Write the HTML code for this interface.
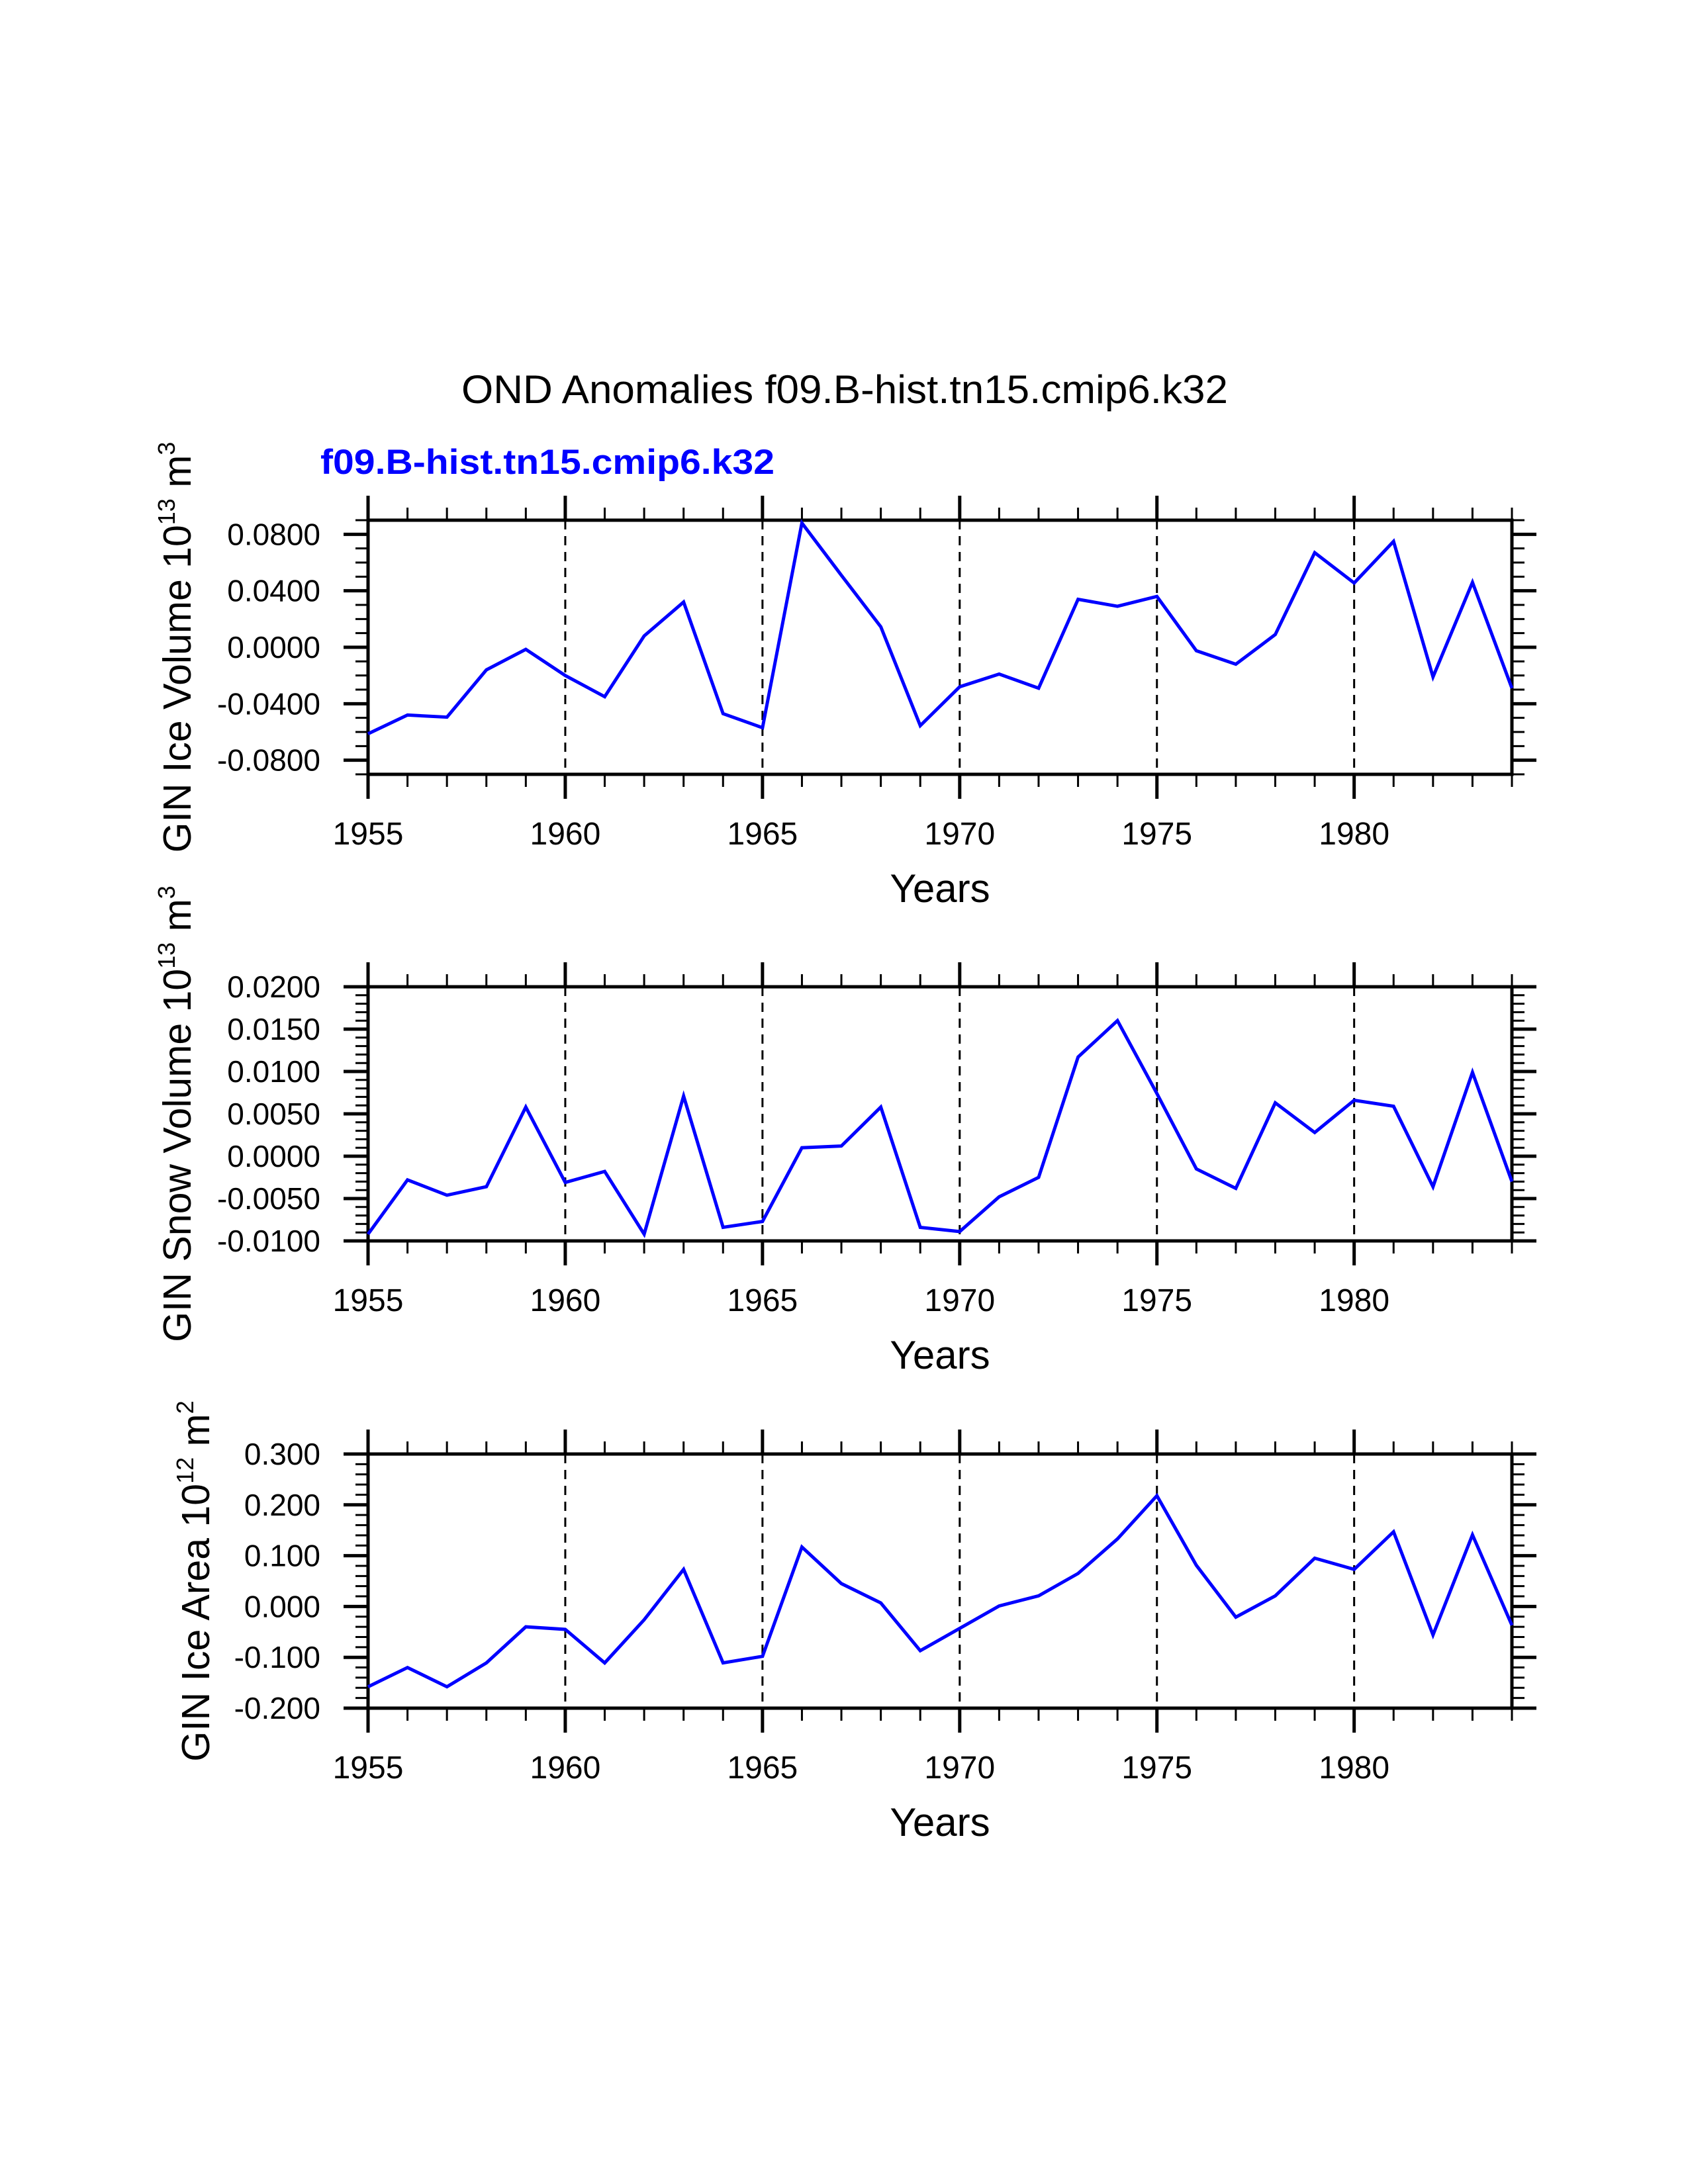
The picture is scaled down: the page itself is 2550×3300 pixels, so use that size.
<!DOCTYPE html>
<html><head><meta charset="utf-8"><style>
html,body{margin:0;padding:0;background:#fff;}
svg{display:block;font-family:"Liberation Sans",sans-serif;}
</style></head><body>
<svg id="c" width="2550" height="3300" viewBox="0 0 2550 3300" xmlns="http://www.w3.org/2000/svg">
<text x="1276" y="609" font-size="60" text-anchor="middle" textLength="1158" lengthAdjust="spacingAndGlyphs">OND Anomalies f09.B-hist.tn15.cmip6.k32</text>
<text x="484" y="716" font-size="53" font-weight="bold" fill="#0000ff" textLength="686" lengthAdjust="spacingAndGlyphs">f09.B-hist.tn15.cmip6.k32</text>
</svg>
<script>
const years = [1955,1956,1957,1958,1959,1960,1961,1962,1963,1964,1965,1966,1967,1968,1969,1970,1971,1972,1973,1974,1975,1976,1977,1978,1979,1980,1981,1982,1983,1984];
const iceVolume = [-0.0613,-0.048,-0.0495,-0.016,-0.0015,-0.020,-0.035,0.008,0.032,-0.047,-0.057,0.088,0.051,0.0145,-0.0555,-0.028,-0.019,-0.029,0.034,0.029,0.036,-0.0025,-0.012,0.009,0.067,0.0455,0.075,-0.021,0.046,-0.029];
const snowVolume = [-0.0092,-0.0028,-0.0046,-0.0036,0.0058,-0.0031,-0.0018,-0.0092,0.0071,-0.0084,-0.0077,0.0010,0.0012,0.0058,-0.0084,-0.0089,-0.0048,-0.0025,0.0117,0.0160,0.0074,-0.0015,-0.0038,0.0063,0.0028,0.0066,0.0059,-0.0036,0.0099,-0.0030];
const iceArea = [-0.158,-0.120,-0.158,-0.111,-0.040,-0.045,-0.111,-0.026,0.073,-0.111,-0.098,0.117,0.045,0.007,-0.087,-0.043,0.001,0.021,0.065,0.133,0.218,0.081,-0.021,0.021,0.095,0.073,0.147,-0.056,0.141,-0.037];
const xTickLabels = [1955,1960,1965,1970,1975,1980];
const volTicks = ["0.0800","0.0400","0.0000","-0.0400","-0.0800"];
const snowTicks = ["0.0200","0.0150","0.0100","0.0050","0.0000","-0.0050","-0.0100"];
const areaTicks = ["0.300","0.200","0.100","0.000","-0.100","-0.200"];

const NS="http://www.w3.org/2000/svg";
const svg=document.getElementById('c');
function mk(tag,attrs,parent){const e=document.createElementNS(NS,tag);for(const k in attrs)e.setAttribute(k,attrs[k]);(parent||svg).appendChild(e);return e;}
const X0=556,X1=2284,XMIN=1955,XMAX=1984;
function xs(v){return X0+(v-XMIN)/(XMAX-XMIN)*(X1-X0);}

function panel(idx,top,ymin,ymax,minorStep,ticks,vals,titleMain,sup,unit,unitSup,key){
  const bot=top+384;
  const ys=v=>bot-(v-ymin)/(ymax-ymin)*(bot-top);
  const g=mk('g',{});
  
  
  for(let y=1960;y<=1980;y+=5){
    const l=mk('line',{x1:xs(y),x2:xs(y),y1:top,y2:bot,stroke:'#000','stroke-width':3,'stroke-dasharray':'14 10'},g);
    
    
  }
  for(let y=XMIN;y<=XMAX;y++){
    const major=(y%5===0);const len=major?37:19;const w=major?5:3;
    mk('line',{x1:xs(y),x2:xs(y),y1:top,y2:top-len,stroke:'#000','stroke-width':w},g);
    mk('line',{x1:xs(y),x2:xs(y),y1:bot,y2:bot+len,stroke:'#000','stroke-width':w},g);
  }
  const n=Math.round((ymax-ymin)/minorStep);
  for(let i=0;i<=n;i++){
    const v=ymin+i*minorStep;const y=ys(v);
    mk('line',{x1:X0,x2:X0-19,y1:y,y2:y,stroke:'#000','stroke-width':3},g);
    mk('line',{x1:X1,x2:X1+19,y1:y,y2:y,stroke:'#000','stroke-width':3},g);
  }
  ticks.forEach(t=>{
    const y=ys(parseFloat(t));
    mk('line',{x1:X0,x2:X0-37,y1:y,y2:y,stroke:'#000','stroke-width':5},g);
    mk('line',{x1:X1,x2:X1+37,y1:y,y2:y,stroke:'#000','stroke-width':5},g);
    const tx=mk('text',{x:484,y:y+16,'font-size':46,'text-anchor':'end'},g);
    tx.textContent=t;
    
    
  });
  xTickLabels.forEach(yr=>{
    const tx=mk('text',{x:xs(yr),y:bot+106,'font-size':48,'text-anchor':'middle'},g);
    tx.textContent=yr;
    
    
  });
  const box=mk('rect',{x:X0,y:top,width:X1-X0,height:bot-top,fill:'none',stroke:'#000','stroke-width':5},g);
  
  
  const pts=vals.map((v,i)=>xs(years[i]).toFixed(1)+','+ys(v).toFixed(1)).join(' ');
  const pl=mk('polyline',{points:pts,fill:'none',stroke:'#0000ff','stroke-width':5,'stroke-linejoin':'miter'},g);
  
  
  const xt=mk('text',{x:(X0+X1)/2,y:bot+193,'font-size':60,'text-anchor':'middle'},g);
  xt.textContent='Years';
  
  
  const tickLeft = ticks.some(t=>t.length>=7)?324:352;
  const bx=tickLeft-36, cy=(top+bot)/2;
  const yt=mk('text',{x:0,y:0,'font-size':59,'text-anchor':'middle',transform:'translate('+bx+','+cy+') rotate(-90)'},g);
  
  
  const a=mk('tspan',{},yt);a.textContent=titleMain;
  const b=mk('tspan',{dy:-24,'font-size':36},yt);b.textContent=sup;
  const c=mk('tspan',{dy:24},yt);c.textContent=' '+unit;
  const d=mk('tspan',{dy:-24,'font-size':36},yt);d.textContent=unitSup;
}
panel(0,786,-0.09,0.09,0.01,volTicks,iceVolume,'GIN Ice Volume 10','13','m','3','ice-volume');
panel(1,1491,-0.01,0.02,0.001,snowTicks,snowVolume,'GIN Snow Volume 10','13','m','3','snow-volume');
panel(2,2197,-0.2,0.3,0.02,areaTicks,iceArea,'GIN Ice Area 10','12','m','2','ice-area');
</script>
</body></html>
